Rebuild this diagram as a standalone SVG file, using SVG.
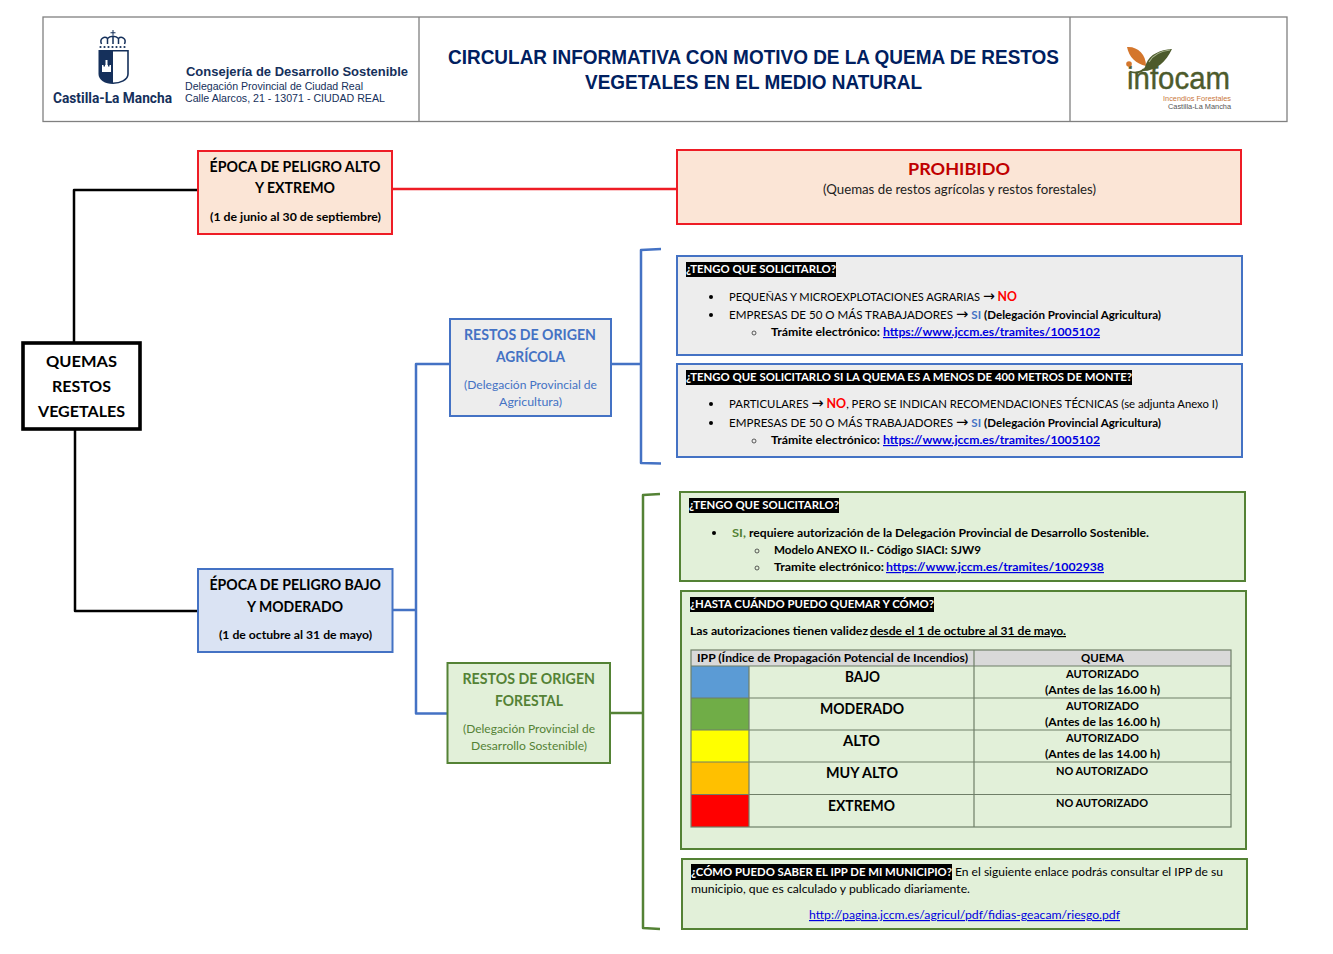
<svg xmlns="http://www.w3.org/2000/svg" width="1333" height="954" viewBox="0 0 1333 954">
<style>
text{font-family:Lato,"Open Sans",sans-serif;fill:#000;white-space:pre}
.b{font-weight:700}
.s{font-size:11.800px}
.m{font-size:12px}
.l{font-size:14.600px;font-weight:700}
.h{font-size:11.800px;font-weight:700;fill:#fff}
.a{font-family:"DejaVu Sans",sans-serif;font-size:15px;font-weight:400}
.ar{font-family:"Liberation Sans",sans-serif}
.red{fill:#f00;font-weight:700;font-size:13px}
.blu{fill:#4472c4;font-weight:700}
.lnk{fill:#0000e0;text-decoration:underline}
.gb{fill:#ededed;stroke:#4472c4;stroke-width:2}
.gr{fill:#e2f0d9;stroke:#548235;stroke-width:2}
.rd{fill:#fbe5d6;stroke:#ee1c25;stroke-width:2}
.cell{fill:none;stroke:#6f7f68;stroke-width:1.200}
.hdr{fill:#000}
.dot{fill:#000}
.ring{fill:none;stroke:#333;stroke-width:.8}
.c{fill:none;stroke-width:2.500;stroke-linejoin:round}
</style>
<g id="connectors">
<path class="c" d="M74 342V190H198" stroke="#000"/>
<path class="c" d="M75 430V611H198" stroke="#000"/>
<path class="c" d="M392 189H677" stroke="#ee1c25"/>
<path class="c" d="M393 610H416M449 364H416V713.500H447" stroke="#4472c4"/>
<path class="c" d="M611 364H641M661 249L641 250V463L661 463.500" stroke="#4472c4"/>
<path class="c" d="M610 713H643M660 494L643 495V928L660 929" stroke="#548235"/>
</g>
<g id="header">
<rect x="43" y="17" width="1244" height="104.500" fill="#fff" stroke="#808080" stroke-width="1.300"/>
<path d="M419 17V121.500M1070 17V121.500" stroke="#808080" stroke-width="1.300"/>
<g id="logo-clm" fill="#15305b">
<path d="M112.500 30h1v2.200h2v1h-2v2.200h-1v-2.200h-2v-1h2z"/>
<path d="M101.500 44C99 38 105 36 107.500 38.500V44M107.500 38.500C110 35.500 116 35.500 118.500 38.500M113 37V44M118.500 44V38.500C121 36 127 38 124.500 44" fill="none" stroke="#15305b" stroke-width="1.500"/>
<circle cx="100.500" cy="47" r="1.100"/><circle cx="104.500" cy="47" r="1.100"/><circle cx="108.500" cy="47" r="1.100"/><circle cx="112.500" cy="47" r="1.100"/><circle cx="116.500" cy="47" r="1.100"/><circle cx="120.500" cy="47" r="1.100"/><circle cx="124.500" cy="47" r="1.100"/>
<path d="M98.500 50H113V84C105 84 98.500 80 98.500 74Z"/>
<path d="M113 50.800H128V74C128 80 120 83.200 113 83.200" fill="#fff" stroke="#15305b" stroke-width="1.600"/>
<path d="M102 72v-7h1.500v1.500h1.500V65h.5v-5h2v5h.5v1.500h1.500V65h1.500v7z" fill="#fff"/>
<text x="53" y="103" font-size="15.500" font-weight="700" style="fill:#15305b;font-family:Roboto,sans-serif" textLength="119" lengthAdjust="spacingAndGlyphs">Castilla-La Mancha</text>
</g>
<text class="ar b" x="186" y="76" font-size="13" style="fill:#15305b" textLength="222" lengthAdjust="spacingAndGlyphs">Consejería de Desarrollo Sostenible</text>
<text class="ar" x="185" y="90" font-size="11" style="fill:#15305b" textLength="178" lengthAdjust="spacingAndGlyphs">Delegación Provincial de Ciudad Real</text>
<text class="ar" x="185" y="102" font-size="11" style="fill:#15305b" textLength="200" lengthAdjust="spacingAndGlyphs">Calle Alarcos, 21 - 13071 - CIUDAD REAL</text>
<text class="ar b" x="448" y="64" font-size="19.500" style="fill:#002060" textLength="611" lengthAdjust="spacingAndGlyphs">CIRCULAR INFORMATIVA CON MOTIVO DE LA QUEMA DE RESTOS</text>
<text class="ar b" x="585" y="89" font-size="19.500" style="fill:#002060" textLength="337" lengthAdjust="spacingAndGlyphs">VEGETALES EN EL MEDIO NATURAL</text>
<g id="logo-infocam">
<text class="ar" x="1127" y="89" font-size="31" style="fill:#4d5b2c;stroke:#4d5b2c;stroke-width:.4" textLength="103" lengthAdjust="spacingAndGlyphs">infocam</text>
<path d="M1127 47C1137 46 1146 54 1146 66C1136 64 1129 57 1127 47Z" fill="#d4762c"/>
<path d="M1172 49C1160 50 1150 54 1146 64C1145 68 1143 70 1141 71C1155 72 1166 62 1172 49Z" fill="#4d5b2c"/>
<path d="M1170 50C1161 51 1153 55 1149 62" fill="none" stroke="#a9b58f" stroke-width="1.200"/>
<path d="M1129.500 71.500C1134 73 1140 73 1144 69" fill="none" stroke="#4d5b2c" stroke-width="1.800"/>
<circle cx="1129" cy="64" r="2.800" fill="#d4762c"/>
<text class="ar" x="1163" y="101" font-size="8" style="fill:#c9773a" textLength="68" lengthAdjust="spacingAndGlyphs">Incendios Forestales</text>
<text class="ar" x="1168" y="109" font-size="8" style="fill:#555" textLength="63" lengthAdjust="spacingAndGlyphs">Castilla-La Mancha</text>
</g>
</g>
<g id="root">
<rect x="23" y="343" width="117" height="86" fill="#fff" stroke="#000" stroke-width="3.600"/>
<text class="b" x="46" y="367" font-size="16" textLength="71" lengthAdjust="spacingAndGlyphs">QUEMAS</text>
<text class="b" x="52" y="392" font-size="16" textLength="59" lengthAdjust="spacingAndGlyphs">RESTOS</text>
<text class="b" x="38" y="417" font-size="16" textLength="87" lengthAdjust="spacingAndGlyphs">VEGETALES</text>
</g>
<g id="epoca-alto">
<rect class="rd" x="198" y="151" width="194" height="83"/>
<text class="l" x="209.500" y="172" textLength="171" lengthAdjust="spacingAndGlyphs">ÉPOCA DE PELIGRO ALTO</text>
<text class="l" x="255" y="193" textLength="80" lengthAdjust="spacingAndGlyphs">Y EXTREMO</text>
<text class="m b" x="210" y="221" textLength="171" lengthAdjust="spacingAndGlyphs">(1 de junio al 30 de septiembre)</text>
</g>
<g id="prohibido">
<rect class="rd" x="677" y="150" width="564" height="74"/>
<text x="908" y="175" font-size="17.500" font-weight="700" style="fill:#c00000" textLength="102" lengthAdjust="spacingAndGlyphs">PROHIBIDO</text>
<text x="823" y="194" font-size="12.800" style="fill:#222" textLength="273" lengthAdjust="spacingAndGlyphs">(Quemas de restos agrícolas y restos forestales)</text>
</g>
<g id="epoca-bajo">
<rect x="198" y="569" width="194.500" height="83" fill="#dae3f3" stroke="#4472c4" stroke-width="2"/>
<text class="l" x="209.500" y="590" textLength="171.500" lengthAdjust="spacingAndGlyphs">ÉPOCA DE PELIGRO BAJO</text>
<text class="l" x="247" y="612" textLength="96" lengthAdjust="spacingAndGlyphs">Y MODERADO</text>
<text class="m b" x="219" y="639" textLength="153" lengthAdjust="spacingAndGlyphs">(1 de octubre al 31 de mayo)</text>
</g>
<g id="agricola">
<rect class="gb" x="450" y="319" width="161" height="97"/>
<text class="l" x="464" y="340" style="fill:#4472c4" textLength="132" lengthAdjust="spacingAndGlyphs">RESTOS DE ORIGEN</text>
<text class="l" x="496" y="362" style="fill:#4472c4" textLength="69" lengthAdjust="spacingAndGlyphs">AGRÍCOLA</text>
<text class="m" x="464" y="389" style="fill:#4472c4" textLength="133" lengthAdjust="spacingAndGlyphs">(Delegación Provincial de</text>
<text class="m" x="499" y="406" style="fill:#4472c4" textLength="63" lengthAdjust="spacingAndGlyphs">Agricultura)</text>
</g>
<g id="forestal">
<rect class="gr" x="447.500" y="663" width="162.500" height="100"/>
<text class="l" x="462.500" y="684" style="fill:#548235" textLength="132.500" lengthAdjust="spacingAndGlyphs">RESTOS DE ORIGEN</text>
<text class="l" x="495" y="706" style="fill:#548235" textLength="68" lengthAdjust="spacingAndGlyphs">FORESTAL</text>
<text class="m" x="463" y="733" style="fill:#548235" textLength="132" lengthAdjust="spacingAndGlyphs">(Delegación Provincial de</text>
<text class="m" x="471" y="750" style="fill:#548235" textLength="116" lengthAdjust="spacingAndGlyphs">Desarrollo Sostenible)</text>
</g>
<g id="agri-solicitar">
<rect class="gb" x="677" y="256" width="565" height="99"/>
<rect class="hdr" x="686" y="262" width="150" height="15"/>
<text class="h" x="686" y="273" textLength="150" lengthAdjust="spacingAndGlyphs">¿TENGO QUE SOLICITARLO?</text>
<circle class="dot" cx="711" cy="297" r="2"/>
<text class="s" x="729" y="301" textLength="288" lengthAdjust="spacingAndGlyphs">PEQUEÑAS Y MICROEXPLOTACIONES AGRARIAS <tspan class="a">→</tspan> <tspan class="red">NO</tspan></text>
<circle class="dot" cx="711" cy="315" r="2"/>
<text class="s" x="729" y="319" textLength="432" lengthAdjust="spacingAndGlyphs">EMPRESAS DE 50 O MÁS TRABAJADORES <tspan class="a">→</tspan> <tspan class="blu">SI</tspan> <tspan class="b">(Delegación Provincial Agricultura)</tspan></text>
<circle class="ring" cx="754" cy="333" r="2"/>
<text class="s b" x="771" y="336" textLength="109" lengthAdjust="spacingAndGlyphs">Trámite electrónico:</text>
<text class="s b lnk" x="883" y="336" textLength="217" lengthAdjust="spacingAndGlyphs">https://www.jccm.es/tramites/1005102</text>
</g>
<g id="agri-400m">
<rect class="gb" x="677" y="364" width="565" height="93"/>
<rect class="hdr" x="686" y="370" width="446" height="15"/>
<text class="h" x="686" y="381" textLength="446" lengthAdjust="spacingAndGlyphs">¿TENGO QUE SOLICITARLO SI LA QUEMA ES A MENOS DE 400 METROS DE MONTE?</text>
<circle class="dot" cx="711" cy="404" r="2"/>
<text class="s" x="729" y="408" textLength="489" lengthAdjust="spacingAndGlyphs">PARTICULARES <tspan class="a">→</tspan> <tspan class="red">NO</tspan>, PERO SE INDICAN RECOMENDACIONES TÉCNICAS (se adjunta Anexo I)</text>
<circle class="dot" cx="711" cy="423" r="2"/>
<text class="s" x="729" y="427" textLength="432" lengthAdjust="spacingAndGlyphs">EMPRESAS DE 50 O MÁS TRABAJADORES <tspan class="a">→</tspan> <tspan class="blu">SI</tspan> <tspan class="b">(Delegación Provincial Agricultura)</tspan></text>
<circle class="ring" cx="754" cy="441" r="2"/>
<text class="s b" x="771" y="444" textLength="109" lengthAdjust="spacingAndGlyphs">Trámite electrónico:</text>
<text class="s b lnk" x="883" y="444" textLength="217" lengthAdjust="spacingAndGlyphs">https://www.jccm.es/tramites/1005102</text>
</g>
<g id="forest-solicitar">
<rect class="gr" x="680" y="492" width="565" height="89"/>
<rect class="hdr" x="689" y="498" width="150" height="15"/>
<text class="h" x="689" y="509" textLength="150" lengthAdjust="spacingAndGlyphs">¿TENGO QUE SOLICITARLO?</text>
<circle class="dot" cx="714" cy="533" r="2"/>
<text class="s b" x="732" y="537" style="fill:#548235" textLength="14" lengthAdjust="spacingAndGlyphs">SI,</text>
<text class="s b" x="749" y="537" textLength="400" lengthAdjust="spacingAndGlyphs">requiere autorización de la Delegación Provincial de Desarrollo Sostenible.</text>
<circle class="ring" cx="757" cy="551" r="2"/>
<text class="s b" x="774" y="554" textLength="207" lengthAdjust="spacingAndGlyphs">Modelo ANEXO II.- Código SIACI: SJW9</text>
<circle class="ring" cx="757" cy="568" r="2"/>
<text class="s b" x="774" y="571" textLength="110" lengthAdjust="spacingAndGlyphs">Tramite electrónico:</text>
<text class="s b lnk" x="886" y="571" textLength="218" lengthAdjust="spacingAndGlyphs">https://www.jccm.es/tramites/1002938</text>
</g>
<g id="forest-hasta">
<rect class="gr" x="681" y="591" width="565" height="258"/>
<rect class="hdr" x="690" y="597" width="244" height="15"/>
<text class="h" x="690" y="608" textLength="244" lengthAdjust="spacingAndGlyphs">¿HASTA CUÁNDO PUEDO QUEMAR Y CÓMO?</text>
<text class="s b" x="690" y="635" textLength="178" lengthAdjust="spacingAndGlyphs">Las autorizaciones tienen validez</text>
<text class="s b" x="870" y="635" text-decoration="underline" textLength="196" lengthAdjust="spacingAndGlyphs">desde el 1 de octubre al 31 de mayo.</text>
</g>
<g id="tabla">
<rect x="691" y="650" width="540" height="16" fill="#d9d9d9"/>
<rect x="691" y="666" width="58" height="32" fill="#5b9bd5"/>
<rect x="691" y="698" width="58" height="32" fill="#70ad47"/>
<rect x="691" y="730" width="58" height="32" fill="#ff0"/>
<rect x="691" y="762" width="58" height="32.500" fill="#ffc000"/>
<rect x="691" y="794.500" width="58" height="32.500" fill="#f00"/>
<rect class="cell" x="691" y="650" width="540" height="177"/>
<path class="cell" d="M691 666H1231M691 698H1231M691 730H1231M691 762H1231M691 794.500H1231M749 666V827M974 650V827"/>
<text class="s b" x="697" y="662" textLength="271" lengthAdjust="spacingAndGlyphs">IPP (Índice de Propagación Potencial de Incendios)</text>
<text class="s b" x="1081" y="662" textLength="43" lengthAdjust="spacingAndGlyphs">QUEMA</text>
<text class="l" x="845" y="682" textLength="35" lengthAdjust="spacingAndGlyphs">BAJO</text>
<text class="l" x="820" y="714" textLength="84" lengthAdjust="spacingAndGlyphs">MODERADO</text>
<text class="l" x="843" y="746" textLength="37" lengthAdjust="spacingAndGlyphs">ALTO</text>
<text class="l" x="826" y="778" textLength="72" lengthAdjust="spacingAndGlyphs">MUY ALTO</text>
<text class="l" x="828" y="811" textLength="67" lengthAdjust="spacingAndGlyphs">EXTREMO</text>
<text class="s b" x="1066" y="678" textLength="73" lengthAdjust="spacingAndGlyphs">AUTORIZADO</text>
<text class="s b" x="1045" y="694" textLength="115" lengthAdjust="spacingAndGlyphs">(Antes de las 16.00 h)</text>
<text class="s b" x="1066" y="710" textLength="73" lengthAdjust="spacingAndGlyphs">AUTORIZADO</text>
<text class="s b" x="1045" y="726" textLength="115" lengthAdjust="spacingAndGlyphs">(Antes de las 16.00 h)</text>
<text class="s b" x="1066" y="742" textLength="73" lengthAdjust="spacingAndGlyphs">AUTORIZADO</text>
<text class="s b" x="1045" y="758" textLength="115" lengthAdjust="spacingAndGlyphs">(Antes de las 14.00 h)</text>
<text class="s b" x="1056" y="775" textLength="92" lengthAdjust="spacingAndGlyphs">NO AUTORIZADO</text>
<text class="s b" x="1056" y="807" textLength="92" lengthAdjust="spacingAndGlyphs">NO AUTORIZADO</text>
</g>
<g id="forest-ipp">
<rect class="gr" x="682" y="859" width="565" height="70"/>
<rect class="hdr" x="691" y="864" width="261" height="16"/>
<text class="h" x="691" y="876" textLength="261" lengthAdjust="spacingAndGlyphs">¿CÓMO PUEDO SABER EL IPP DE MI MUNICIPIO?</text>
<text class="s" x="955" y="876" textLength="268" lengthAdjust="spacingAndGlyphs">En el siguiente enlace podrás consultar el IPP de su</text>
<text class="s" x="691" y="893" textLength="279" lengthAdjust="spacingAndGlyphs">municipio, que es calculado y publicado diariamente.</text>
<text class="s lnk" x="809" y="919" textLength="311" lengthAdjust="spacingAndGlyphs">http://pagina.jccm.es/agricul/pdf/fidias-geacam/riesgo.pdf</text>
</g>
</svg>
